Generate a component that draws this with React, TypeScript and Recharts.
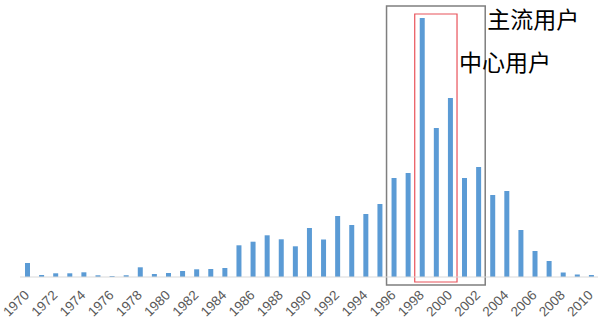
import React from 'react';
import { BarChart, Bar, XAxis, YAxis, ReferenceArea } from 'recharts';

const years = Array.from({ length: 41 }, (_, i) => String(1970 + i));
const users = [
  14, 2, 3.7, 3.7, 4.7, 1.7, 1, 1.7, 9.7, 3, 4, 6, 7.7, 8, 9,
  31.7, 35.3, 41.7, 37.7, 30.7, 49, 37.5, 61, 52, 63, 73, 99, 104,
  259, 149, 179, 99, 110, 82, 86, 47, 26, 16, 4.5, 2.5, 2,
];
const labelTicks = years.filter((_, i) => i % 2 === 0);

const data = years.map((year, i) => ({ year, users: users[i] }));

const YearTick = ({ x, y, payload }: any) => (
  <text
    x={x + 3}
    y={y + 19}
    transform={`rotate(-45, ${x + 3}, ${y + 19})`}
    textAnchor="end"
    fontSize={13.5}
    fontFamily="'Liberation Sans', sans-serif"
    fill="#595959"
  >
    {payload.value}
  </text>
);

const boxLabel = (text: string, dy: number) => (props: any) => {
  const { viewBox } = props;
  return (
    <text
      x={viewBox.x + viewBox.width + 2}
      y={viewBox.y + dy}
      fontSize={23}
      fontFamily="'Noto Sans CJK SC', sans-serif"
      fill="#000"
    >
      {text}
    </text>
  );
};

export default function App() {
  return (
    <div style={{ position: 'absolute', left: 0, top: 0, background: '#fff' }}>
      <BarChart width={600} height={327} data={data} margin={{ top: 7, right: 2, bottom: 0, left: 20 }}>
        <XAxis
          dataKey="year"
          ticks={labelTicks}
          interval={0}
          tickLine={false}
          tickSize={0}
          tickMargin={0}
          height={50}
          stroke="#D9D9D9"
          tick={<YearTick />}
        />
        <YAxis hide domain={[0, 270]} />
        <Bar dataKey="users" fill="#5B9BD5" barSize={5} isAnimationActive={false} />
        <ReferenceArea
          x1="1996"
          x2="2002"
          y1={-8}
          y2={271}
          ifOverflow="visible"
          fill="none"
          stroke="#7F7F7F"
          strokeWidth={1.5}
          label={boxLabel('主流用户', 22)}
        />
        <ReferenceArea
          x1="1998"
          x2="2000"
          y1={-5}
          y2={263}
          ifOverflow="visible"
          fill="none"
          stroke="#E8525A"
          strokeWidth={1.2}
          label={boxLabel('中心用户', 57)}
        />
      </BarChart>
    </div>
  );
}
